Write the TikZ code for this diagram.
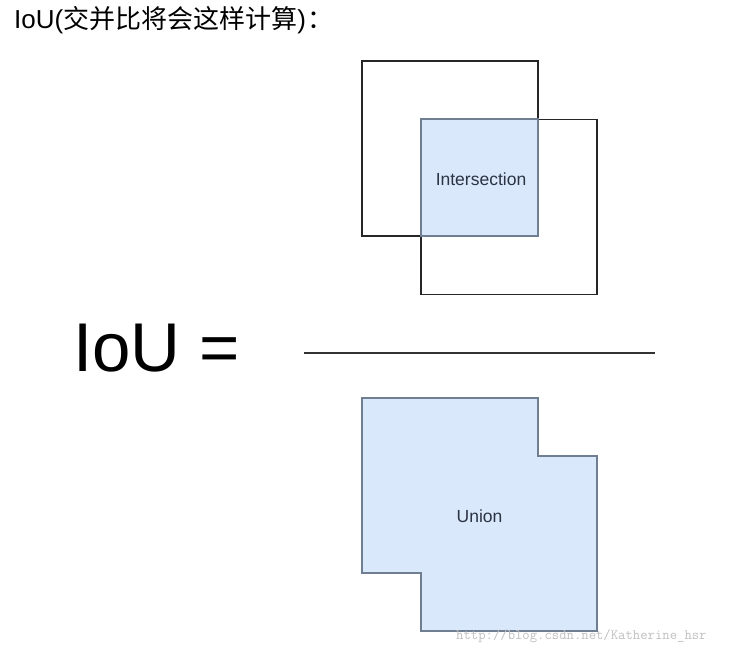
\documentclass[tikz,border=0pt]{standalone}
\usepackage{fontspec}
\setmainfont{Liberation Sans}
\newfontfamily\cjk{Noto Sans CJK SC}
\newfontfamily\wmark{Latin Modern Mono}
\definecolor{boxfill}{RGB}{218,232,252}
\definecolor{boxedge}{RGB}{112,126,146}
\definecolor{boxtext}{RGB}{43,52,66}
\begin{document}
\begin{tikzpicture}[x=1pt, y=-1pt,
    bbox/.style={draw=black!85, line width=1.8pt, minimum width=176pt, minimum height=175pt, inner sep=0pt},
    area/.style={fill=boxfill, draw=boxedge, line width=1.3pt},
    lbl/.style={font=\fontsize{17.5}{20}\selectfont, text=boxtext, anchor=base}]
    \useasboundingbox (0, 0) rectangle (735, 647);

    \node[anchor=base west, inner sep=0pt, font=\fontsize{26}{30}\selectfont] (title) at (14, 29) {IoU({\cjk 交并比将会这样计算})\hspace{2pt}{\cjk ：}};

    \node[bbox] (boxa) at (450, 148.5) {};
    \node[bbox] (boxb) at (509, 207) {};
    \node[area, minimum width=117pt, minimum height=117pt, inner sep=0pt] (inter) at (479.5, 177.5) {};
    \node[lbl] (intertext) at (481, 185) {Intersection};

    \node[anchor=base west, inner sep=0pt, font=\fontsize{69}{72}\selectfont] (iou) at (73, 371) {IoU =};
    \draw[line width=1.4pt, black!80] (304, 353) -- (655, 353);

    \draw[area] (362, 398) -- (538, 398) -- (538, 456) -- (597, 456) -- (597, 631)
        -- (421, 631) -- (421, 573) -- (362, 573) -- cycle;
    \node[lbl] (union) at (479.5, 522) {Union};

    \node[anchor=base west, inner sep=0pt, text=black!25, font=\wmark\fontsize{14.3}{16}\selectfont] (mark) at (456, 639) {http://blog.csdn.net/Katherine\_hsr};
\end{tikzpicture}
\end{document}
